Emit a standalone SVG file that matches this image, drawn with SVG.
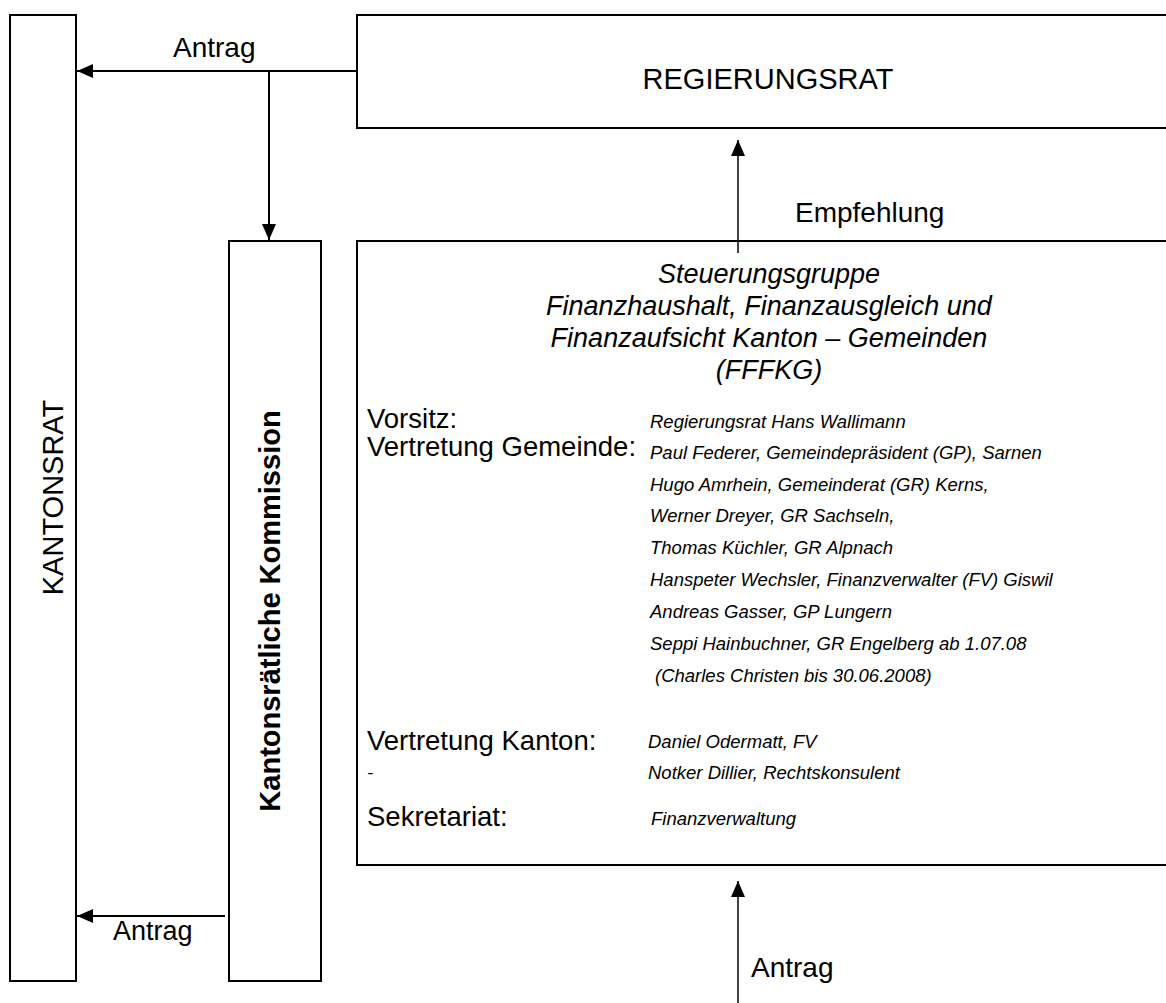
<svg xmlns="http://www.w3.org/2000/svg" width="1166" height="1003" viewBox="0 0 1166 1003">
<style>
.box{fill:#fff;stroke:#000;stroke-width:2}
.t{font-family:"Liberation Sans",Arial,sans-serif;fill:#000}
.lbl{font-size:27.5px}
.nm{font-size:18.5px;font-style:italic}
.ttl{font-size:27px;font-style:italic;text-anchor:middle}
.con{stroke:#000;fill:none}
</style>
<defs>
<marker id="ah" markerUnits="userSpaceOnUse" markerWidth="16" markerHeight="14" refX="16" refY="7" orient="auto">
<path d="M0,0 L16,7 L0,14 z" fill="#000"/>
</marker>
</defs>
<rect width="1166" height="1003" fill="#fff"/>
<g id="kantonsrat">
<rect class="box" x="10" y="15" width="66" height="966"/>
<text class="t" font-size="29" text-anchor="middle" transform="translate(63,497.5) rotate(-90)">KANTONSRAT</text>
</g>
<g id="kommission">
<rect class="box" x="229" y="241" width="92" height="740"/>
<text class="t" font-size="29" font-weight="bold" text-anchor="middle" transform="translate(280,611) rotate(-90)">Kantonsrätliche Kommission</text>
</g>
<g id="regierungsrat">
<rect class="box" x="357" y="15" width="820" height="113"/>
<text class="t" font-size="29" text-anchor="middle" x="768" y="89">REGIERUNGSRAT</text>
</g>
<g id="steuerungsgruppe">
<rect class="box" x="357" y="241" width="820" height="624"/>
<text class="t ttl" x="769" y="283">Steuerungsgruppe</text>
<text class="t ttl" x="769" y="315">Finanzhaushalt, Finanzausgleich und</text>
<text class="t ttl" x="769" y="347">Finanzaufsicht Kanton – Gemeinden</text>
<text class="t ttl" x="769" y="379">(FFFKG)</text>
<text class="t lbl" x="367" y="428">Vorsitz:</text>
<text class="t lbl" x="367" y="456">Vertretung Gemeinde:</text>
<text class="t nm" x="650" y="428">Regierungsrat Hans Wallimann</text>
<text class="t nm" x="650" y="459">Paul Federer, Gemeindepräsident (GP), Sarnen</text>
<text class="t nm" x="650" y="491">Hugo Amrhein, Gemeinderat (GR) Kerns,</text>
<text class="t nm" x="650" y="522">Werner Dreyer, GR Sachseln,</text>
<text class="t nm" x="650" y="554">Thomas Küchler, GR Alpnach</text>
<text class="t nm" x="650" y="586">Hanspeter Wechsler, Finanzverwalter (FV) Giswil</text>
<text class="t nm" x="650" y="618">Andreas Gasser, GP Lungern</text>
<text class="t nm" x="650" y="650">Seppi Hainbuchner, GR Engelberg ab 1.07.08</text>
<text class="t nm" x="655" y="682">(Charles Christen bis 30.06.2008)</text>
<text class="t lbl" x="367" y="750">Vertretung Kanton:</text>
<text class="t nm" x="648" y="748">Daniel Odermatt, FV</text>
<text class="t nm" x="367" y="779">-</text>
<text class="t nm" x="648" y="779">Notker Dillier, Rechtskonsulent</text>
<text class="t lbl" x="367" y="826">Sekretariat:</text>
<text class="t nm" x="651" y="825">Finanzverwaltung</text>
</g>
<g id="connectors">
<line class="con" stroke-width="2" x1="357" y1="71" x2="77" y2="71" marker-end="url(#ah)"/>
<line class="con" stroke-width="2" x1="269" y1="71" x2="269" y2="240" marker-end="url(#ah)"/>
<line class="con" stroke-width="1.5" x1="738" y1="253" x2="738" y2="140" marker-end="url(#ah)"/>
<line class="con" stroke-width="1.5" x1="738" y1="1003" x2="738" y2="881" marker-end="url(#ah)"/>
<line class="con" stroke-width="2" x1="225" y1="916" x2="77" y2="916" marker-end="url(#ah)"/>
<text class="t" font-size="28" x="173" y="57">Antrag</text>
<text class="t" font-size="28" x="795" y="222">Empfehlung</text>
<text class="t" font-size="28" x="751" y="977">Antrag</text>
<text class="t" font-size="27" x="113" y="940">Antrag</text>
</g>
</svg>
